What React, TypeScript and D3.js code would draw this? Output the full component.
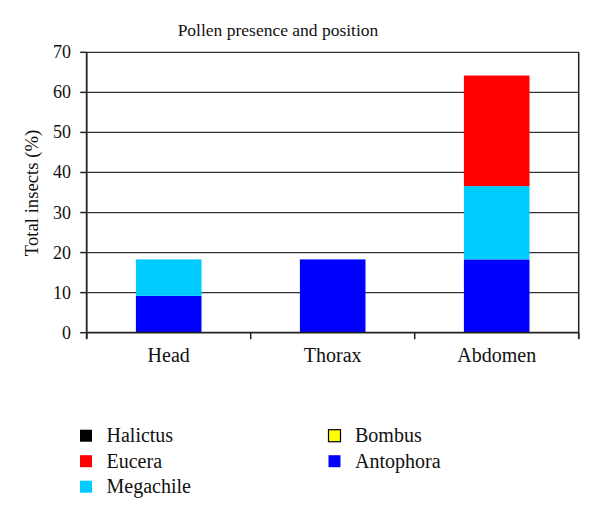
import React from "react";
import * as d3 from "d3";

const categories = ["Head", "Thorax", "Abdomen"];
const seriesNames = ["Antophora", "Megachile", "Eucera", "Halictus", "Bombus"];
const antophora = [9.2, 18.3, 18.3];
const megachile = [9.1, 0, 18.3];
const eucera = [0, 0, 27.6];
const halictus = [0, 0, 0];
const bombus = [0, 0, 0];
const yTicks = [0, 10, 20, 30, 40, 50, 60, 70];
const colors: Record<string, string> = {
  Antophora: "#0000ff",
  Megachile: "#00ccff",
  Eucera: "#ff0000",
  Halictus: "#000000",
  Bombus: "#ffff00",
};
const legendCols = [["Halictus", "Eucera", "Megachile"], ["Bombus", "Antophora"]];

const W = 600, H = 518;
const left = 86.7, right = 578.7, top = 52.3, bottom = 332.7;
const font = "'Liberation Serif', 'Times New Roman', serif";

export default function App() {
  const x = d3.scaleBand().domain(categories).range([left, right]).paddingInner(0.6).paddingOuter(0.3);
  const xb = d3.scaleBand().domain(categories).range([left, right]).padding(0);
  const y = d3.scaleLinear().domain([0, 70]).range([bottom, top]);
  const rows = categories.map((c, i) => ({
    cat: c,
    Antophora: antophora[i],
    Megachile: megachile[i],
    Eucera: eucera[i],
    Halictus: halictus[i],
    Bombus: bombus[i],
  }));
  const stack = d3.stack<any>().keys(seriesNames)(rows);
  const boundaries = [...categories.map((c) => xb(c)!), right];

  return (
    <svg width={W} height={H} style={{ position: "absolute", left: 0, top: 0, background: "#fff" }} fontFamily={font}>
      <rect x={0} y={0} width={W} height={H} fill="#fff" />
      <text x={278} y={36} textAnchor="middle" fontSize={17.5} fill="#111">Pollen presence and position</text>
      {yTicks.slice(1).map((t) => (
        <line key={t} x1={left} x2={right} y1={y(t)} y2={y(t)} stroke="#333" strokeWidth={1.2} />
      ))}
      {stack.map((s) =>
        s.map((d, i) =>
          d[1] - d[0] > 0 ? (
            <rect key={s.key + i} x={x(categories[i])} width={x.bandwidth()} y={y(d[1])} height={y(d[0]) - y(d[1])} fill={colors[s.key]} />
          ) : null
        )
      )}
      <line x1={right} x2={right} y1={top} y2={bottom + 6} stroke="#222" strokeWidth={1.5} />
      <line x1={left} x2={left} y1={top} y2={bottom + 6} stroke="#222" strokeWidth={1.8} />
      <line x1={left} x2={right} y1={bottom} y2={bottom} stroke="#222" strokeWidth={1.8} />
      {yTicks.map((t) => (
        <g key={t}>
          <line x1={left - 6.5} x2={left} y1={y(t)} y2={y(t)} stroke="#222" strokeWidth={1.5} />
          <text x={71} y={y(t) + 6} textAnchor="end" fontSize={18} fill="#111">{t}</text>
        </g>
      ))}
      {boundaries.map((b, i) => (
        <line key={i} x1={b} x2={b} y1={bottom} y2={bottom + 6.5} stroke="#222" strokeWidth={1.5} />
      ))}
      {categories.map((c) => (
        <text key={c} x={xb(c)! + xb.bandwidth() / 2} y={362} textAnchor="middle" fontSize={20} fill="#111">{c}</text>
      ))}
      <text transform={`translate(38,${193}) rotate(-90)`} textAnchor="middle" fontSize={18.7} fill="#111">Total insects (%)</text>
      {legendCols.map((col, ci) =>
        col.map((name, ri) => {
          const sx = ci === 0 ? 80 : 328.5;
          const cy = 435.7 + ri * 25.5;
          return (
            <g key={name}>
              <rect x={sx} y={cy - 6} width={12} height={12} fill={colors[name]} stroke={name === "Bombus" ? "#000" : "none"} strokeWidth={1.2} />
              <text x={sx + 26.5} y={cy + 6.5} fontSize={20} fill="#111">{name}</text>
            </g>
          );
        })
      )}
    </svg>
  );
}
